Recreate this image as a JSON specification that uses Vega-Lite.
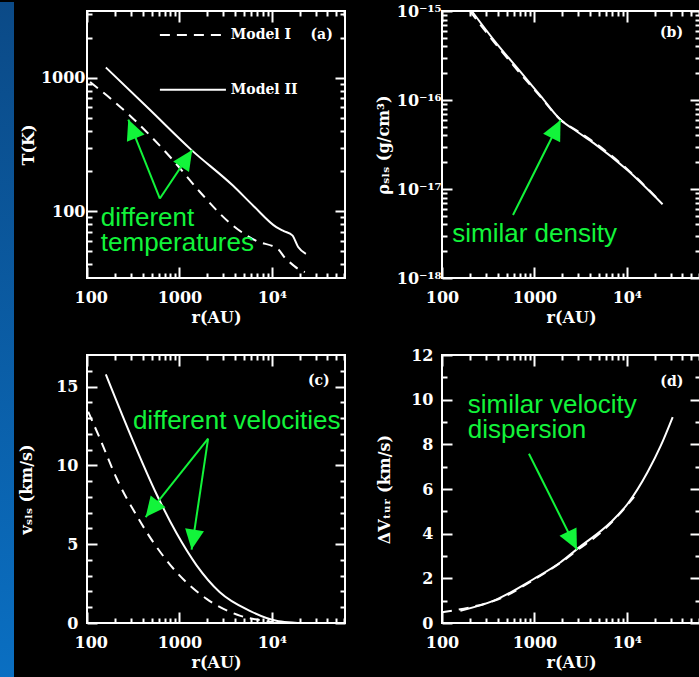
{
  "$schema": "https://vega.github.io/schema/vega-lite/v6.json",
  "background": "black",
  "padding": 0,
  "datasets": {
    "curves": [
      {"panel": "a", "model": "II", "r": 160, "v": 1194},
      {"panel": "a", "model": "II", "r": 464, "v": 588},
      {"panel": "a", "model": "II", "r": 1355, "v": 287},
      {"panel": "a", "model": "II", "r": 3820, "v": 155},
      {"panel": "a", "model": "II", "r": 6300, "v": 110},
      {"panel": "a", "model": "II", "r": 11200, "v": 76},
      {"panel": "a", "model": "II", "r": 13500, "v": 71},
      {"panel": "a", "model": "II", "r": 16700, "v": 66},
      {"panel": "a", "model": "II", "r": 19300, "v": 54},
      {"panel": "a", "model": "II", "r": 23400, "v": 48},
      {"panel": "a", "model": "I", "r": 108, "v": 930},
      {"panel": "a", "model": "I", "r": 292, "v": 520},
      {"panel": "a", "model": "I", "r": 858, "v": 240},
      {"panel": "a", "model": "I", "r": 1660, "v": 140},
      {"panel": "a", "model": "I", "r": 3800, "v": 78},
      {"panel": "a", "model": "I", "r": 6800, "v": 60},
      {"panel": "a", "model": "I", "r": 11700, "v": 52},
      {"panel": "a", "model": "I", "r": 13800, "v": 45},
      {"panel": "a", "model": "I", "r": 15700, "v": 41.4},
      {"panel": "a", "model": "I", "r": 19300, "v": 37},
      {"panel": "a", "model": "I", "r": 22800, "v": 35},
      {"panel": "b", "model": "II", "r": 210, "v": 1.0e-15},
      {"panel": "b", "model": "II", "r": 364, "v": 4.72e-16},
      {"panel": "b", "model": "II", "r": 705, "v": 2.08e-16},
      {"panel": "b", "model": "II", "r": 1161, "v": 1.12e-16},
      {"panel": "b", "model": "II", "r": 1920, "v": 6.0e-17},
      {"panel": "b", "model": "II", "r": 2910, "v": 4.4e-17},
      {"panel": "b", "model": "II", "r": 4420, "v": 3.26e-17},
      {"panel": "b", "model": "II", "r": 10200, "v": 1.62e-17},
      {"panel": "b", "model": "II", "r": 24400, "v": 6.73e-18},
      {"panel": "b", "model": "I", "r": 200, "v": 1.0e-15},
      {"panel": "b", "model": "I", "r": 364, "v": 4.5e-16},
      {"panel": "b", "model": "I", "r": 705, "v": 1.98e-16},
      {"panel": "b", "model": "I", "r": 1161, "v": 1.09e-16},
      {"panel": "b", "model": "I", "r": 1920, "v": 6.0e-17},
      {"panel": "b", "model": "I", "r": 2910, "v": 4.5e-17},
      {"panel": "b", "model": "I", "r": 4420, "v": 3.35e-17},
      {"panel": "b", "model": "I", "r": 10200, "v": 1.66e-17},
      {"panel": "b", "model": "I", "r": 22000, "v": 7.6e-18},
      {"panel": "c", "model": "II", "r": 160, "v": 15.77},
      {"panel": "c", "model": "II", "r": 317, "v": 11.51},
      {"panel": "c", "model": "II", "r": 566, "v": 8.17},
      {"panel": "c", "model": "II", "r": 933, "v": 5.69},
      {"panel": "c", "model": "II", "r": 1535, "v": 3.66},
      {"panel": "c", "model": "II", "r": 2740, "v": 1.95},
      {"panel": "c", "model": "II", "r": 5780, "v": 0.77},
      {"panel": "c", "model": "II", "r": 11200, "v": 0.14},
      {"panel": "c", "model": "II", "r": 15000, "v": 0.04},
      {"panel": "c", "model": "II", "r": 19000, "v": 0},
      {"panel": "c", "model": "I", "r": 103, "v": 13.4},
      {"panel": "c", "model": "I", "r": 138, "v": 11.7},
      {"panel": "c", "model": "I", "r": 210, "v": 9.15},
      {"panel": "c", "model": "I", "r": 344, "v": 6.82},
      {"panel": "c", "model": "I", "r": 521, "v": 5.13},
      {"panel": "c", "model": "I", "r": 933, "v": 3.22},
      {"panel": "c", "model": "I", "r": 1970, "v": 1.53},
      {"panel": "c", "model": "I", "r": 4500, "v": 0.47},
      {"panel": "c", "model": "I", "r": 8050, "v": 0.15},
      {"panel": "c", "model": "I", "r": 10500, "v": 0.05},
      {"panel": "d", "model": "II", "r": 158, "v": 0.55},
      {"panel": "d", "model": "II", "r": 364, "v": 1.0},
      {"panel": "d", "model": "II", "r": 982, "v": 1.97},
      {"panel": "d", "model": "II", "r": 1920, "v": 2.72},
      {"panel": "d", "model": "II", "r": 2910, "v": 3.32},
      {"panel": "d", "model": "II", "r": 6750, "v": 4.52},
      {"panel": "d", "model": "II", "r": 10230, "v": 5.34},
      {"panel": "d", "model": "II", "r": 16800, "v": 6.76},
      {"panel": "d", "model": "II", "r": 23400, "v": 7.95},
      {"panel": "d", "model": "II", "r": 31400, "v": 9.22},
      {"panel": "d", "model": "I", "r": 100, "v": 0.48},
      {"panel": "d", "model": "I", "r": 200, "v": 0.7},
      {"panel": "d", "model": "I", "r": 400, "v": 1.05},
      {"panel": "d", "model": "I", "r": 1000, "v": 1.95},
      {"panel": "d", "model": "I", "r": 2000, "v": 2.75},
      {"panel": "d", "model": "I", "r": 3000, "v": 3.3},
      {"panel": "d", "model": "I", "r": 5000, "v": 3.98},
      {"panel": "d", "model": "I", "r": 8000, "v": 4.8},
      {"panel": "d", "model": "I", "r": 12000, "v": 5.65}
    ],
    "arrows": [
      {"panel": "a", "id": "a1", "r": 280, "v": 486, "r2": 615, "v2": 124.5},
      {"panel": "a", "id": "a2", "r": 1375, "v": 287, "r2": 615, "v2": 124.5},
      {"panel": "b", "id": "b1", "r": 1920, "v": 5.96e-17, "r2": 587, "v2": 5.1e-18},
      {"panel": "c", "id": "c1", "r": 431, "v": 6.72, "r2": 2045, "v2": 11.7},
      {"panel": "c", "id": "c2", "r": 1355, "v": 4.66, "r2": 2045, "v2": 11.7},
      {"panel": "d", "id": "d1", "r": 2886, "v": 3.29, "r2": 873, "v2": 7.58}
    ],
    "notes": [
      {"panel": "a", "kind": "note", "r": 141, "v": 77, "text": "different\ntemperatures"},
      {"panel": "b", "kind": "note", "r": 129, "v": 2.56e-18, "text": "similar density"},
      {"panel": "c", "kind": "note", "r": 314, "v": 12.33, "text": "different velocities"},
      {"panel": "d", "kind": "note", "r": 190, "v": 9.42, "text": "similar velocity\ndispersion"},
      {"panel": "a", "kind": "tag", "r": 45700, "v": 2094, "text": "(a)"},
      {"panel": "b", "kind": "tag", "r": 40600, "v": 5.66e-16, "text": "(b)"},
      {"panel": "c", "kind": "tag", "r": 42400, "v": 15.32, "text": "(c)"},
      {"panel": "d", "kind": "tag", "r": 41000, "v": 10.8, "text": "(d)"},
      {"panel": "a", "kind": "key", "r": 3600, "v": 2094, "text": "Model I"},
      {"panel": "a", "kind": "key", "r": 3600, "v": 813, "text": "Model II"}
    ],
    "keys": [
      {"model": "I", "r": 615, "r2": 2880, "v": 2094},
      {"model": "II", "r": 615, "r2": 3190, "v": 813}
    ]
  },
  "hconcat": [
    {
      "width": 14,
      "height": 677,
      "data": {"values": [{}]},
      "mark": {
        "type": "rect",
        "strokeWidth": 0,
        "fill": {"gradient": "linear", "x1": 0, "y1": 0, "x2": 0, "y2": 1,
          "stops": [{"offset": 0, "color": "#0b4a87"}, {"offset": 1, "color": "#0a6fc2"}]}
      },
      "view": {"stroke": null}
    },
    {
      "vconcat": [
        {"width": 1, "height": 1, "data": {"values": [{}]}, "mark": {"type": "point", "filled": true, "size": 16, "opacity": 0}, "view": {"stroke": null}},
        {
          "columns": 2,
          "spacing": {"row": 77, "column": 97},
          "bounds": "flush",
          "concat": [
            {
              "width": 258, "height": 267,
              "encoding": {
                "x": {"field": "r", "type": "quantitative", "scale": {"type": "log", "domain": [100, 62000], "nice": false}, "axis": null},
                "y": {"field": "v", "type": "quantitative", "scale": {"type": "log", "domain": [31.62, 3162.3], "nice": false}, "axis": null}
              },
              "layer": [
                {
                  "data": {"name": "curves"},
                  "transform": [{"filter": "datum.panel == 'a' && datum.model == 'II'"}],
                  "mark": {"type": "line", "color": "white", "strokeWidth": 2, "interpolate": "monotone"},
                  "encoding": {
                    "x": {"field": "r", "type": "quantitative", "scale": {"type": "log", "domain": [100, 62000], "nice": false},
                      "axis": {"orient": "bottom", "values": [100, 1000, 10000], "ticks": false, "labelPadding": 11, "labelFlush": true, "labelFlushOffset": 13,
                        "labelExpr": "datum.value > 5000 ? '10⁴' : datum.value > 500 ? '1000' : '100'", "title": "r(AU)", "titlePadding": 4}},
                    "y": {"field": "v", "type": "quantitative", "scale": {"type": "log", "domain": [31.62, 3162.3], "nice": false},
                      "axis": {"orient": "left", "values": [100, 1000], "format": "d", "ticks": false, "labelPadding": 2, "title": "T(K)", "titlePadding": 4}}
                  }
                },
                {
                  "data": {"name": "curves"},
                  "transform": [{"filter": "datum.panel == 'a' && datum.model == 'I'"}],
                  "mark": {"type": "line", "color": "white", "strokeWidth": 2, "strokeDash": [10, 7], "interpolate": "monotone"},
                  "encoding": {
                    "x": {"field": "r", "type": "quantitative", "scale": {"type": "log", "domain": [100, 62000], "nice": false},
                      "axis": {"orient": "bottom", "values": [100, 1000, 10000], "ticks": true, "labels": true, "labelExpr": "''", "tickSize": 11, "offset": -11, "title": null}},
                    "y": {"field": "v", "type": "quantitative", "scale": {"type": "log", "domain": [31.62, 3162.3], "nice": false},
                      "axis": {"orient": "left", "values": [100, 1000], "ticks": true, "labels": true, "labelExpr": "''", "tickSize": 10, "offset": -10, "title": null}}
                  }
                },
                {
                  "data": {"name": "arrows"},
                  "transform": [{"filter": "datum.panel == 'a'"}],
                  "mark": {"type": "rule", "color": "#12f43a", "strokeWidth": 2},
                  "encoding": {
                    "x": {"field": "r", "type": "quantitative", "scale": {"type": "log", "domain": [100, 62000], "nice": false},
                      "axis": {"orient": "bottom", "values": [200, 300, 400, 500, 600, 700, 800, 900, 2000, 3000, 4000, 5000, 6000, 7000, 8000, 9000, 20000, 30000, 40000, 50000, 60000], "ticks": true, "labels": true, "labelExpr": "''", "tickSize": 5, "offset": -5, "title": null}},
                    "y": {"field": "v", "type": "quantitative", "scale": {"type": "log", "domain": [31.62, 3162.3], "nice": false},
                      "axis": {"orient": "left", "values": [40, 50, 60, 70, 80, 90, 200, 300, 400, 500, 600, 700, 800, 900, 2000, 3000], "ticks": true, "labels": true, "labelExpr": "''", "tickSize": 5, "offset": -5, "title": null}},
                    "x2": {"field": "r2"},
                    "y2": {"field": "v2"}
                  }
                },
                {
                  "data": {"name": "notes"},
                  "transform": [{"filter": "datum.panel == 'a' && datum.kind == 'note'"}],
                  "mark": {"type": "text", "align": "left", "baseline": "alphabetic", "font": "Liberation Sans", "fontSize": 26, "color": "#12f43a", "lineBreak": "\n", "lineHeight": 24.5},
                  "encoding": {
                    "x": {"field": "r", "type": "quantitative", "scale": {"type": "log", "domain": [100, 62000], "nice": false},
                      "axis": {"orient": "top", "values": [100, 1000, 10000], "ticks": true, "labels": true, "labelExpr": "''", "labelBaseline": "top", "tickSize": 11, "offset": -11, "title": null}},
                    "y": {"field": "v", "type": "quantitative", "scale": {"type": "log", "domain": [31.62, 3162.3], "nice": false},
                      "axis": {"orient": "right", "values": [100, 1000], "ticks": true, "labels": true, "labelExpr": "''", "tickSize": 10, "offset": -10, "title": null}},
                    "text": {"field": "text", "type": "nominal"}
                  }
                },
                {
                  "data": {"name": "notes"},
                  "transform": [{"filter": "datum.panel == 'a' && datum.kind == 'tag'"}],
                  "mark": {"type": "text", "align": "right", "baseline": "middle", "font": "DejaVu Serif", "fontSize": 14, "fontWeight": "bold", "color": "white"},
                  "encoding": {
                    "x": {"field": "r", "type": "quantitative", "scale": {"type": "log", "domain": [100, 62000], "nice": false},
                      "axis": {"orient": "top", "values": [200, 300, 400, 500, 600, 700, 800, 900, 2000, 3000, 4000, 5000, 6000, 7000, 8000, 9000, 20000, 30000, 40000, 50000, 60000], "ticks": true, "labels": true, "labelExpr": "''", "labelBaseline": "top", "tickSize": 5, "offset": -5, "title": null}},
                    "y": {"field": "v", "type": "quantitative", "scale": {"type": "log", "domain": [31.62, 3162.3], "nice": false},
                      "axis": {"orient": "right", "values": [40, 50, 60, 70, 80, 90, 200, 300, 400, 500, 600, 700, 800, 900, 2000, 3000], "ticks": true, "labels": true, "labelExpr": "''", "tickSize": 5, "offset": -5, "title": null}},
                    "text": {"field": "text", "type": "nominal"}
                  }
                },
                {
                  "data": {"name": "arrows"},
                  "transform": [{"filter": "datum.id == 'a1'"}],
                  "mark": {"type": "point", "shape": "M0,0L-0.95,2L0.95,2Z", "size": 400, "filled": true, "color": "#12f43a", "opacity": 1, "strokeWidth": 0, "angle": 338.2}
                },
                {
                  "data": {"name": "arrows"},
                  "transform": [{"filter": "datum.id == 'a2'"}],
                  "mark": {"type": "point", "shape": "M0,0L-0.95,2L0.95,2Z", "size": 400, "filled": true, "color": "#12f43a", "opacity": 1, "strokeWidth": 0, "angle": 33.6}
                },
                {
                  "data": {"name": "keys"},
                  "mark": {"type": "rule", "color": "white", "strokeWidth": 2},
                  "encoding": {
                    "x2": {"field": "r2"},
                    "strokeDash": {"field": "model", "type": "nominal", "scale": {"domain": ["I", "II"], "range": [[10, 7], [1, 0]]}, "legend": null}
                  }
                },
                {
                  "data": {"name": "notes"},
                  "transform": [{"filter": "datum.kind == 'key'"}],
                  "mark": {"type": "text", "align": "left", "baseline": "middle", "font": "DejaVu Serif", "fontSize": 14, "fontWeight": "bold", "color": "white"},
                  "encoding": {"text": {"field": "text", "type": "nominal"}}
                }
              ],
              "resolve": {"axis": {"x": "independent", "y": "independent"}}
            },
            {
              "width": 258, "height": 267,
              "encoding": {
                "x": {"field": "r", "type": "quantitative", "scale": {"type": "log", "domain": [100, 62000], "nice": false}, "axis": null},
                "y": {"field": "v", "type": "quantitative", "scale": {"type": "log", "domain": [1e-18, 1e-15], "nice": false}, "axis": null}
              },
              "layer": [
                {
                  "data": {"name": "curves"},
                  "transform": [{"filter": "datum.panel == 'b' && datum.model == 'II'"}],
                  "mark": {"type": "line", "color": "white", "strokeWidth": 2, "interpolate": "monotone"},
                  "encoding": {
                    "x": {"field": "r", "type": "quantitative", "scale": {"type": "log", "domain": [100, 62000], "nice": false},
                      "axis": {"orient": "bottom", "values": [100, 1000, 10000], "ticks": false, "labelPadding": 11, "labelFlush": false,
                        "labelExpr": "datum.value > 5000 ? '10⁴' : datum.value > 500 ? '1000' : '100'", "title": "r(AU)", "titlePadding": 4}},
                    "y": {"field": "v", "type": "quantitative", "scale": {"type": "log", "domain": [1e-18, 1e-15], "nice": false},
                      "axis": {"orient": "left", "values": [1e-18, 1e-17, 1e-16, 1e-15], "ticks": false, "labelPadding": 1,
                        "labelExpr": "'10' + (datum.value < 5e-18 ? '⁻¹⁸' : datum.value < 5e-17 ? '⁻¹⁷' : datum.value < 5e-16 ? '⁻¹⁶' : '⁻¹⁵')",
                        "title": "ρₛₗₛ (g/cm³)", "titlePadding": 5}}
                  }
                },
                {
                  "data": {"name": "curves"},
                  "transform": [{"filter": "datum.panel == 'b' && datum.model == 'I'"}],
                  "mark": {"type": "line", "color": "white", "strokeWidth": 2, "strokeDash": [10, 7], "interpolate": "monotone"},
                  "encoding": {
                    "x": {"field": "r", "type": "quantitative", "scale": {"type": "log", "domain": [100, 62000], "nice": false},
                      "axis": {"orient": "bottom", "values": [100, 1000, 10000], "ticks": true, "labels": true, "labelExpr": "''", "tickSize": 11, "offset": -11, "title": null}},
                    "y": {"field": "v", "type": "quantitative", "scale": {"type": "log", "domain": [1e-18, 1e-15], "nice": false},
                      "axis": {"orient": "left", "values": [1e-18, 1e-17, 1e-16, 1e-15], "ticks": true, "labels": true, "labelExpr": "''", "tickSize": 10, "offset": -10, "title": null}}
                  }
                },
                {
                  "data": {"name": "arrows"},
                  "transform": [{"filter": "datum.panel == 'b'"}],
                  "mark": {"type": "rule", "color": "#12f43a", "strokeWidth": 2},
                  "encoding": {
                    "x": {"field": "r", "type": "quantitative", "scale": {"type": "log", "domain": [100, 62000], "nice": false},
                      "axis": {"orient": "bottom", "values": [200, 300, 400, 500, 600, 700, 800, 900, 2000, 3000, 4000, 5000, 6000, 7000, 8000, 9000, 20000, 30000, 40000, 50000, 60000], "ticks": true, "labels": true, "labelExpr": "''", "tickSize": 5, "offset": -5, "title": null}},
                    "y": {"field": "v", "type": "quantitative", "scale": {"type": "log", "domain": [1e-18, 1e-15], "nice": false},
                      "axis": {"orient": "left", "values": [2e-18, 3e-18, 4e-18, 5e-18, 6e-18, 7e-18, 8e-18, 9e-18, 2e-17, 3e-17, 4e-17, 5e-17, 6e-17, 7e-17, 8e-17, 9e-17, 2e-16, 3e-16, 4e-16, 5e-16, 6e-16, 7e-16, 8e-16, 9e-16], "ticks": true, "labels": true, "labelExpr": "''", "tickSize": 5, "offset": -5, "title": null}},
                    "x2": {"field": "r2"},
                    "y2": {"field": "v2"}
                  }
                },
                {
                  "data": {"name": "notes"},
                  "transform": [{"filter": "datum.panel == 'b' && datum.kind == 'note'"}],
                  "mark": {"type": "text", "align": "left", "baseline": "alphabetic", "font": "Liberation Sans", "fontSize": 26, "color": "#12f43a", "lineBreak": "\n", "lineHeight": 24.5},
                  "encoding": {
                    "x": {"field": "r", "type": "quantitative", "scale": {"type": "log", "domain": [100, 62000], "nice": false},
                      "axis": {"orient": "top", "values": [100, 1000, 10000], "ticks": true, "labels": true, "labelExpr": "''", "labelBaseline": "top", "tickSize": 11, "offset": -11, "title": null}},
                    "y": {"field": "v", "type": "quantitative", "scale": {"type": "log", "domain": [1e-18, 1e-15], "nice": false},
                      "axis": {"orient": "right", "values": [1e-18, 1e-17, 1e-16, 1e-15], "ticks": true, "labels": true, "labelExpr": "''", "tickSize": 10, "offset": -10, "title": null}},
                    "text": {"field": "text", "type": "nominal"}
                  }
                },
                {
                  "data": {"name": "notes"},
                  "transform": [{"filter": "datum.panel == 'b' && datum.kind == 'tag'"}],
                  "mark": {"type": "text", "align": "right", "baseline": "middle", "font": "DejaVu Serif", "fontSize": 14, "fontWeight": "bold", "color": "white"},
                  "encoding": {
                    "x": {"field": "r", "type": "quantitative", "scale": {"type": "log", "domain": [100, 62000], "nice": false},
                      "axis": {"orient": "top", "values": [200, 300, 400, 500, 600, 700, 800, 900, 2000, 3000, 4000, 5000, 6000, 7000, 8000, 9000, 20000, 30000, 40000, 50000, 60000], "ticks": true, "labels": true, "labelExpr": "''", "labelBaseline": "top", "tickSize": 5, "offset": -5, "title": null}},
                    "y": {"field": "v", "type": "quantitative", "scale": {"type": "log", "domain": [1e-18, 1e-15], "nice": false},
                      "axis": {"orient": "right", "values": [2e-18, 3e-18, 4e-18, 5e-18, 6e-18, 7e-18, 8e-18, 9e-18, 2e-17, 3e-17, 4e-17, 5e-17, 6e-17, 7e-17, 8e-17, 9e-17, 2e-16, 3e-16, 4e-16, 5e-16, 6e-16, 7e-16, 8e-16, 9e-16], "ticks": true, "labels": true, "labelExpr": "''", "tickSize": 5, "offset": -5, "title": null}},
                    "text": {"field": "text", "type": "nominal"}
                  }
                },
                {
                  "data": {"name": "arrows"},
                  "transform": [{"filter": "datum.id == 'b1'"}],
                  "mark": {"type": "point", "shape": "M0,0L-0.95,2L0.95,2Z", "size": 400, "filled": true, "color": "#12f43a", "opacity": 1, "strokeWidth": 0, "angle": 26.5}
                }
              ],
              "resolve": {"axis": {"x": "independent", "y": "independent"}}
            },
            {
              "width": 258, "height": 268,
              "encoding": {
                "x": {"field": "r", "type": "quantitative", "scale": {"type": "log", "domain": [100, 62000], "nice": false}, "axis": null},
                "y": {"field": "v", "type": "quantitative", "scale": {"type": "linear", "domain": [0, 17], "nice": false, "zero": false}, "axis": null}
              },
              "layer": [
                {
                  "data": {"name": "curves"},
                  "transform": [{"filter": "datum.panel == 'c' && datum.model == 'II'"}],
                  "mark": {"type": "line", "color": "white", "strokeWidth": 2, "interpolate": "monotone"},
                  "encoding": {
                    "x": {"field": "r", "type": "quantitative", "scale": {"type": "log", "domain": [100, 62000], "nice": false},
                      "axis": {"orient": "bottom", "values": [100, 1000, 10000], "ticks": false, "labelPadding": 11, "labelFlush": true, "labelFlushOffset": 13,
                        "labelExpr": "datum.value > 5000 ? '10⁴' : datum.value > 500 ? '1000' : '100'", "title": "r(AU)", "titlePadding": 4}},
                    "y": {"field": "v", "type": "quantitative", "scale": {"type": "linear", "domain": [0, 17], "nice": false, "zero": false},
                      "axis": {"orient": "left", "values": [0, 5, 10, 15], "format": "d", "ticks": false, "labelPadding": 9, "title": "vₛₗₛ (km/s)", "titlePadding": 21}}
                  }
                },
                {
                  "data": {"name": "curves"},
                  "transform": [{"filter": "datum.panel == 'c' && datum.model == 'I'"}],
                  "mark": {"type": "line", "color": "white", "strokeWidth": 2, "strokeDash": [10, 7], "interpolate": "monotone"},
                  "encoding": {
                    "x": {"field": "r", "type": "quantitative", "scale": {"type": "log", "domain": [100, 62000], "nice": false},
                      "axis": {"orient": "bottom", "values": [100, 1000, 10000], "ticks": true, "labels": true, "labelExpr": "''", "tickSize": 11, "offset": -11, "title": null}},
                    "y": {"field": "v", "type": "quantitative", "scale": {"type": "linear", "domain": [0, 17], "nice": false, "zero": false},
                      "axis": {"orient": "left", "values": [0, 5, 10, 15], "ticks": true, "labels": true, "labelExpr": "''", "tickSize": 10, "offset": -10, "title": null}}
                  }
                },
                {
                  "data": {"name": "arrows"},
                  "transform": [{"filter": "datum.panel == 'c'"}],
                  "mark": {"type": "rule", "color": "#12f43a", "strokeWidth": 2},
                  "encoding": {
                    "x": {"field": "r", "type": "quantitative", "scale": {"type": "log", "domain": [100, 62000], "nice": false},
                      "axis": {"orient": "bottom", "values": [200, 300, 400, 500, 600, 700, 800, 900, 2000, 3000, 4000, 5000, 6000, 7000, 8000, 9000, 20000, 30000, 40000, 50000, 60000], "ticks": true, "labels": true, "labelExpr": "''", "tickSize": 5, "offset": -5, "title": null}},
                    "y": {"field": "v", "type": "quantitative", "scale": {"type": "linear", "domain": [0, 17], "nice": false, "zero": false},
                      "axis": {"orient": "left", "values": [1, 2, 3, 4, 6, 7, 8, 9, 11, 12, 13, 14, 16], "ticks": true, "labels": true, "labelExpr": "''", "tickSize": 5, "offset": -5, "title": null}},
                    "x2": {"field": "r2"},
                    "y2": {"field": "v2"}
                  }
                },
                {
                  "data": {"name": "notes"},
                  "transform": [{"filter": "datum.panel == 'c' && datum.kind == 'note'"}],
                  "mark": {"type": "text", "align": "left", "baseline": "alphabetic", "font": "Liberation Sans", "fontSize": 26, "color": "#12f43a", "lineBreak": "\n", "lineHeight": 24.5},
                  "encoding": {
                    "x": {"field": "r", "type": "quantitative", "scale": {"type": "log", "domain": [100, 62000], "nice": false},
                      "axis": {"orient": "top", "values": [100, 1000, 10000], "ticks": true, "labels": true, "labelExpr": "''", "labelBaseline": "top", "tickSize": 11, "offset": -11, "title": null}},
                    "y": {"field": "v", "type": "quantitative", "scale": {"type": "linear", "domain": [0, 17], "nice": false, "zero": false},
                      "axis": {"orient": "right", "values": [0, 5, 10, 15], "ticks": true, "labels": true, "labelExpr": "''", "tickSize": 10, "offset": -10, "title": null}},
                    "text": {"field": "text", "type": "nominal"}
                  }
                },
                {
                  "data": {"name": "notes"},
                  "transform": [{"filter": "datum.panel == 'c' && datum.kind == 'tag'"}],
                  "mark": {"type": "text", "align": "right", "baseline": "middle", "font": "DejaVu Serif", "fontSize": 14, "fontWeight": "bold", "color": "white"},
                  "encoding": {
                    "x": {"field": "r", "type": "quantitative", "scale": {"type": "log", "domain": [100, 62000], "nice": false},
                      "axis": {"orient": "top", "values": [200, 300, 400, 500, 600, 700, 800, 900, 2000, 3000, 4000, 5000, 6000, 7000, 8000, 9000, 20000, 30000, 40000, 50000, 60000], "ticks": true, "labels": true, "labelExpr": "''", "labelBaseline": "top", "tickSize": 5, "offset": -5, "title": null}},
                    "y": {"field": "v", "type": "quantitative", "scale": {"type": "linear", "domain": [0, 17], "nice": false, "zero": false},
                      "axis": {"orient": "right", "values": [1, 2, 3, 4, 6, 7, 8, 9, 11, 12, 13, 14, 16], "ticks": true, "labels": true, "labelExpr": "''", "tickSize": 5, "offset": -5, "title": null}},
                    "text": {"field": "text", "type": "nominal"}
                  }
                },
                {
                  "data": {"name": "arrows"},
                  "transform": [{"filter": "datum.id == 'c1'"}],
                  "mark": {"type": "point", "shape": "M0,0L-0.95,2L0.95,2Z", "size": 400, "filled": true, "color": "#12f43a", "opacity": 1, "strokeWidth": 0, "angle": 218.6}
                },
                {
                  "data": {"name": "arrows"},
                  "transform": [{"filter": "datum.id == 'c2'"}],
                  "mark": {"type": "point", "shape": "M0,0L-0.95,2L0.95,2Z", "size": 400, "filled": true, "color": "#12f43a", "opacity": 1, "strokeWidth": 0, "angle": 188.5}
                }
              ],
              "resolve": {"axis": {"x": "independent", "y": "independent"}}
            },
            {
              "width": 258, "height": 268,
              "encoding": {
                "x": {"field": "r", "type": "quantitative", "scale": {"type": "log", "domain": [100, 62000], "nice": false}, "axis": null},
                "y": {"field": "v", "type": "quantitative", "scale": {"type": "linear", "domain": [0, 12], "nice": false}, "axis": null}
              },
              "layer": [
                {
                  "data": {"name": "curves"},
                  "transform": [{"filter": "datum.panel == 'd' && datum.model == 'II'"}],
                  "mark": {"type": "line", "color": "white", "strokeWidth": 2, "interpolate": "monotone"},
                  "encoding": {
                    "x": {"field": "r", "type": "quantitative", "scale": {"type": "log", "domain": [100, 62000], "nice": false},
                      "axis": {"orient": "bottom", "values": [100, 1000, 10000], "ticks": false, "labelPadding": 11, "labelFlush": false,
                        "labelExpr": "datum.value > 5000 ? '10⁴' : datum.value > 500 ? '1000' : '100'", "title": "r(AU)", "titlePadding": 4}},
                    "y": {"field": "v", "type": "quantitative", "scale": {"type": "linear", "domain": [0, 12], "nice": false},
                      "axis": {"orient": "left", "values": [0, 2, 4, 6, 8, 10, 12], "format": "d", "ticks": false, "labelPadding": 9, "title": "ΔVₜᵤᵣ (km/s)", "titlePadding": 18}}
                  }
                },
                {
                  "data": {"name": "curves"},
                  "transform": [{"filter": "datum.panel == 'd' && datum.model == 'I'"}],
                  "mark": {"type": "line", "color": "white", "strokeWidth": 2, "strokeDash": [10, 7], "interpolate": "monotone"},
                  "encoding": {
                    "x": {"field": "r", "type": "quantitative", "scale": {"type": "log", "domain": [100, 62000], "nice": false},
                      "axis": {"orient": "bottom", "values": [100, 1000, 10000], "ticks": true, "labels": true, "labelExpr": "''", "tickSize": 11, "offset": -11, "title": null}},
                    "y": {"field": "v", "type": "quantitative", "scale": {"type": "linear", "domain": [0, 12], "nice": false},
                      "axis": {"orient": "left", "values": [0, 2, 4, 6, 8, 10, 12], "ticks": true, "labels": true, "labelExpr": "''", "tickSize": 10, "offset": -10, "title": null}}
                  }
                },
                {
                  "data": {"name": "arrows"},
                  "transform": [{"filter": "datum.panel == 'd'"}],
                  "mark": {"type": "rule", "color": "#12f43a", "strokeWidth": 2},
                  "encoding": {
                    "x": {"field": "r", "type": "quantitative", "scale": {"type": "log", "domain": [100, 62000], "nice": false},
                      "axis": {"orient": "bottom", "values": [200, 300, 400, 500, 600, 700, 800, 900, 2000, 3000, 4000, 5000, 6000, 7000, 8000, 9000, 20000, 30000, 40000, 50000, 60000], "ticks": true, "labels": true, "labelExpr": "''", "tickSize": 5, "offset": -5, "title": null}},
                    "y": {"field": "v", "type": "quantitative", "scale": {"type": "linear", "domain": [0, 12], "nice": false},
                      "axis": {"orient": "left", "values": [1, 3, 5, 7, 9, 11], "ticks": true, "labels": true, "labelExpr": "''", "tickSize": 5, "offset": -5, "title": null}},
                    "x2": {"field": "r2"},
                    "y2": {"field": "v2"}
                  }
                },
                {
                  "data": {"name": "notes"},
                  "transform": [{"filter": "datum.panel == 'd' && datum.kind == 'note'"}],
                  "mark": {"type": "text", "align": "left", "baseline": "alphabetic", "font": "Liberation Sans", "fontSize": 26, "color": "#12f43a", "lineBreak": "\n", "lineHeight": 25},
                  "encoding": {
                    "x": {"field": "r", "type": "quantitative", "scale": {"type": "log", "domain": [100, 62000], "nice": false},
                      "axis": {"orient": "top", "values": [100, 1000, 10000], "ticks": true, "labels": true, "labelExpr": "''", "labelBaseline": "top", "tickSize": 11, "offset": -11, "title": null}},
                    "y": {"field": "v", "type": "quantitative", "scale": {"type": "linear", "domain": [0, 12], "nice": false},
                      "axis": {"orient": "right", "values": [0, 2, 4, 6, 8, 10, 12], "ticks": true, "labels": true, "labelExpr": "''", "tickSize": 10, "offset": -10, "title": null}},
                    "text": {"field": "text", "type": "nominal"}
                  }
                },
                {
                  "data": {"name": "notes"},
                  "transform": [{"filter": "datum.panel == 'd' && datum.kind == 'tag'"}],
                  "mark": {"type": "text", "align": "right", "baseline": "middle", "font": "DejaVu Serif", "fontSize": 14, "fontWeight": "bold", "color": "white"},
                  "encoding": {
                    "x": {"field": "r", "type": "quantitative", "scale": {"type": "log", "domain": [100, 62000], "nice": false},
                      "axis": {"orient": "top", "values": [200, 300, 400, 500, 600, 700, 800, 900, 2000, 3000, 4000, 5000, 6000, 7000, 8000, 9000, 20000, 30000, 40000, 50000, 60000], "ticks": true, "labels": true, "labelExpr": "''", "labelBaseline": "top", "tickSize": 5, "offset": -5, "title": null}},
                    "y": {"field": "v", "type": "quantitative", "scale": {"type": "linear", "domain": [0, 12], "nice": false},
                      "axis": {"orient": "right", "values": [1, 3, 5, 7, 9, 11], "ticks": true, "labels": true, "labelExpr": "''", "tickSize": 5, "offset": -5, "title": null}},
                    "text": {"field": "text", "type": "nominal"}
                  }
                },
                {
                  "data": {"name": "arrows"},
                  "transform": [{"filter": "datum.id == 'd1'"}],
                  "mark": {"type": "point", "shape": "M0,0L-0.95,2L0.95,2Z", "size": 400, "filled": true, "color": "#12f43a", "opacity": 1, "strokeWidth": 0, "angle": 153.5}
                }
              ],
              "resolve": {"axis": {"x": "independent", "y": "independent"}}
            }
          ]
        }
      ],
      "spacing": 8,
      "bounds": "flush"
    }
  ],
  "spacing": 73,
  "bounds": "flush",
  "config": {
    "view": {"stroke": "white", "strokeWidth": 2},
    "axis": {
      "domain": false,
      "grid": false,
      "labelColor": "white",
      "labelFont": "DejaVu Serif",
      "labelFontSize": 16,
      "labelFontWeight": "bold",
      "titleColor": "white",
      "titleFont": "DejaVu Serif",
      "titleFontSize": 16,
      "titleFontWeight": "bold",
      "tickColor": "white",
      "tickWidth": 2,
      "labelFlush": false
    }
  }
}
